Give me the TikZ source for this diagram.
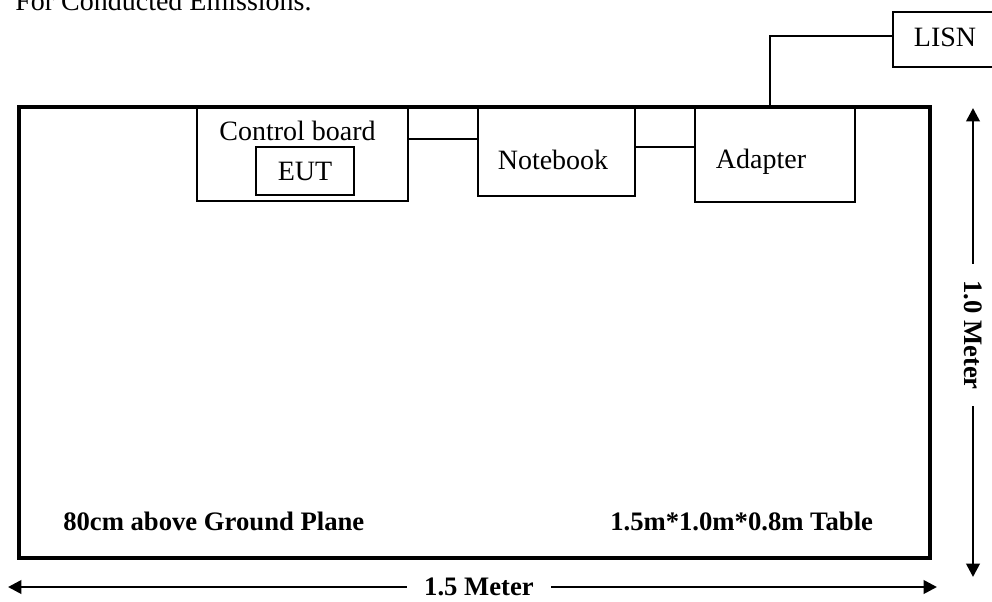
\documentclass[tikz,border=0pt]{standalone}
\usepackage{fontspec}
\setmainfont{Liberation Serif}
\usepackage{tikz}
\usetikzlibrary{arrows.meta, positioning, calc}
\tikzset{
  tablebox/.style = {rectangle, draw, line width=3pt, inner sep=0pt,
                     minimum width=683.25pt, minimum height=338.25pt},
  dev/.style      = {rectangle, draw, line width=1.5pt, inner sep=0pt},
  txt/.style      = {inner sep=0pt, font=\fontsize{21}{24}\selectfont},
  note/.style     = {inner sep=0pt, font=\bfseries\fontsize{20}{24}\selectfont},
  wire/.style     = {line width=1pt},
  dim/.style      = {-{Triangle[length=10pt, width=10pt]}, line width=2pt},
}
\begin{document}
\begin{tikzpicture}[x=0.75pt, y=-0.75pt]
  \useasboundingbox (0,0) rectangle (992,601);

  \node[txt, anchor=base west] (title) at (15,10) {For Conducted Emissions.};

  \node[tablebox] (tbl) at (474.5,332.5) {};

  \node[dev, minimum width=158.25pt, minimum height=69.75pt] (cb) at (302.5,154.5) {};
  \node[txt] (cbtxt) at (297.5,131) {Control board};
  \node[dev, txt, minimum width=73.5pt, minimum height=36pt] (eut) at (305,171) {EUT};

  \node[dev, minimum width=117.75pt, minimum height=66pt] (nb) at (556.5,152) {};
  \node[txt] (nbtxt) at (553,160) {Notebook};

  \node[dev, minimum width=120pt, minimum height=70.5pt] (ad) at (775,155) {};
  \node[txt] (adtxt) at (761,162) {Adapter};

  \node[dev, minimum width=84pt, minimum height=41.25pt] (lisn) at (949,39.5) {};
  \node[txt] (lisntxt) at (945,37) {LISN};

  \draw[wire] ([yshift=11.6pt]cb.east) -- ([yshift=11.6pt]cb.east -| nb.west);
  \draw[wire] ([yshift=3.75pt]nb.east) -- ([yshift=3.75pt]nb.east -| ad.west);
  \draw[wire] ([yshift=2.6pt]lisn.west) -| ([xshift=-3.75pt]ad.north);

  \node[note, anchor=base west] (gp) at (63,530) {80cm above Ground Plane};
  \node[note, anchor=base west] (size) at (610,530) {1.5m*1.0m*0.8m Table};

  \coordinate (vtop) at (973,108);
  \coordinate (vbot) at (973,577);
  \node[note, rotate=-90, inner xsep=12pt] (vlab) at (973,335) {1.0 Meter};
  \draw[dim] (vlab.west) -- (vtop);
  \draw[dim] (vlab.east) -- (vbot);

  \coordinate (hleft) at (8,587);
  \coordinate (hright) at (937,587);
  \node[note, inner xsep=13pt] (hlab) at (479,587) {1.5 Meter};
  \draw[dim] (hlab.west) -- (hleft);
  \draw[dim] (hlab.east) -- (hright);
\end{tikzpicture}
\end{document}
